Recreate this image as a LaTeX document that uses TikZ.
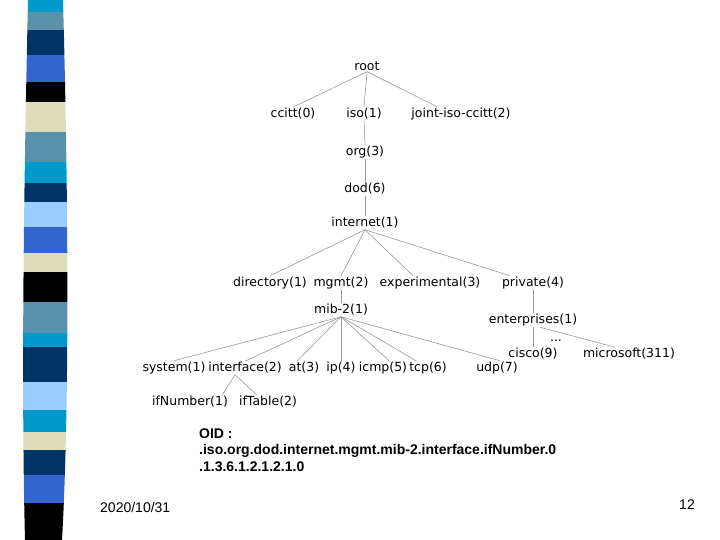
\documentclass[tikz,border=0pt]{standalone}
\usepackage{fontspec}
\usepackage{tikz}
\usetikzlibrary{positioning, calc}
\newfontfamily\treefont{DejaVu Sans}
\newfontfamily\arialfont{Liberation Sans}
\definecolor{stripecyan}{RGB}{0,153,204}
\definecolor{stripegray}{RGB}{88,146,170}
\definecolor{stripenavy}{RGB}{0,51,102}
\definecolor{striperoyal}{RGB}{51,102,204}
\definecolor{stripebeige}{RGB}{221,221,187}
\definecolor{stripesky}{RGB}{153,204,255}

\begin{document}
\begin{tikzpicture}[
    x=1pt, y=-1pt,
    tnode/.style={inner sep=1pt, font=\treefont\fontsize{12.5}{14}\selectfont},
    edge/.style={draw=gray!80, line width=0.6pt},
    oid/.style={anchor=west, inner sep=0pt, font=\arialfont\bfseries\fontsize{14}{16}\selectfont},
    foot/.style={inner sep=0pt, font=\arialfont\fontsize{14}{16}\selectfont}
]
\useasboundingbox (0,0) rectangle (720,540);

% left stripe
\begin{scope}
\clip (28,0) .. controls (24,180) and (21,380) .. (25,540) -- (62,540) .. controls (70,400) and (68,180) .. (63,0) -- cycle;
\fill[stripecyan] (0,0) rectangle (80,12);
\fill[stripegray] (0,12) rectangle (80,30);
\fill[stripenavy] (0,30) rectangle (80,55);
\fill[striperoyal] (0,55) rectangle (80,82);
\fill[black] (0,82) rectangle (80,102);
\fill[stripebeige] (0,102) rectangle (80,132);
\fill[stripegray] (0,132) rectangle (80,162);
\fill[stripecyan] (0,162) rectangle (80,183);
\fill[stripenavy] (0,183) rectangle (80,202);
\fill[stripesky] (0,202) rectangle (80,227);
\fill[striperoyal] (0,227) rectangle (80,253);
\fill[stripebeige] (0,253) rectangle (80,272);
\fill[black] (0,272) rectangle (80,302);
\fill[stripegray] (0,302) rectangle (80,333);
\fill[stripecyan] (0,333) rectangle (80,347);
\fill[stripenavy] (0,347) rectangle (80,382);
\fill[stripesky] (0,382) rectangle (80,410);
\fill[stripecyan] (0,410) rectangle (80,432);
\fill[stripebeige] (0,432) rectangle (80,450);
\fill[stripenavy] (0,450) rectangle (80,475);
\fill[striperoyal] (0,475) rectangle (80,503);
\fill[black] (0,503) rectangle (80,540);
\end{scope}

% tree nodes
\node[tnode] (root) at (367,66) {root};
\node[tnode] (ccitt) at (293,114) {ccitt(0)};
\node[tnode] (iso) at (364,114) {iso(1)};
\node[tnode] (joint) at (461,114) {joint-iso-ccitt(2)};
\node[tnode] (org) at (365,152) {org(3)};
\node[tnode] (dod) at (365,189) {dod(6)};
\node[tnode] (inet) at (365,223) {internet(1)};
\node[tnode] (dir) at (270,283) {directory(1)};
\node[tnode] (mgmt) at (341,283) {mgmt(2)};
\node[tnode] (exp) at (430,283) {experimental(3)};
\node[tnode] (priv) at (533,283) {private(4)};
\node[tnode] (mib) at (341,310) {mib-2(1)};
\node[tnode] (ent) at (533,320) {enterprises(1)};
\node[tnode] (sys) at (174,368) {system(1)};
\node[tnode] (iface) at (245,368) {interface(2)};
\node[tnode] (at) at (304,368) {at(3)};
\node[tnode] (ip) at (341,368) {ip(4)};
\node[tnode] (icmp) at (383,368) {icmp(5)};
\node[tnode] (tcp) at (428,368) {tcp(6)};
\node[tnode] (udp) at (497,368) {udp(7)};
\node[tnode] (cisco) at (533,354) {cisco(9)};
\node[tnode] (dots) at (556,341) {...};
\node[tnode] (ms) at (629,354) {microsoft(311)};
\node[tnode] (ifnum) at (190,402) {ifNumber(1)};
\node[tnode] (iftab) at (268,402) {ifTable(2)};

% connectors
\draw[edge] (root.south) -- (ccitt.north);
\draw[edge] (root.south) -- (iso.north);
\draw[edge] (root.south) -- ([xshift=-24]joint.north);
\draw[edge] (iso.south) -- (org.north);
\draw[edge] (org.south) -- (dod.north);
\draw[edge] (dod.south) -- (inet.north);
\draw[edge] (inet.south) -- (dir.north);
\draw[edge] (inet.south) -- (mgmt.north);
\draw[edge] (inet.south) -- ([xshift=-17]exp.north);
\draw[edge] (inet.south) -- ([xshift=-23]priv.north);
\draw[edge] (mgmt.south) -- (mib.north);
\draw[edge] (priv.south) -- (ent.north);
\draw[edge] (ent.south) -- (cisco.north);
\draw[edge] ([xshift=7]ent.south) -- ([xshift=-14]ms.north);
\draw[edge] (mib.south) -- (sys.north);
\draw[edge] (mib.south) -- (iface.north);
\draw[edge] (mib.south) -- ([xshift=-7]at.north);
\draw[edge] (mib.south) -- (ip.north);
\draw[edge] (mib.south) -- ([xshift=6]icmp.north);
\draw[edge] (mib.south) -- ([xshift=-12]tcp.north);
\draw[edge] (mib.south) -- ([xshift=3]udp.north);
\draw[edge] ([xshift=-10]iface.south) -- ([xshift=32]ifnum.north);
\draw[edge] ([xshift=-10]iface.south) -- ([xshift=-11]iftab.north);

% OID text and footer
\node[oid] (oidhead) at (199,434) {OID :};
\node[oid] (oidname) at (199,451) {.iso.org.dod.internet.mgmt.mib-2.interface.ifNumber.0};
\node[oid] (oidnum) at (199,467) {.1.3.6.1.2.1.2.1.0};
\node[foot, anchor=west] (date) at (100,507) {2020/10/31};
\node[foot] (page) at (687,505) {12};
\end{tikzpicture}
\end{document}
